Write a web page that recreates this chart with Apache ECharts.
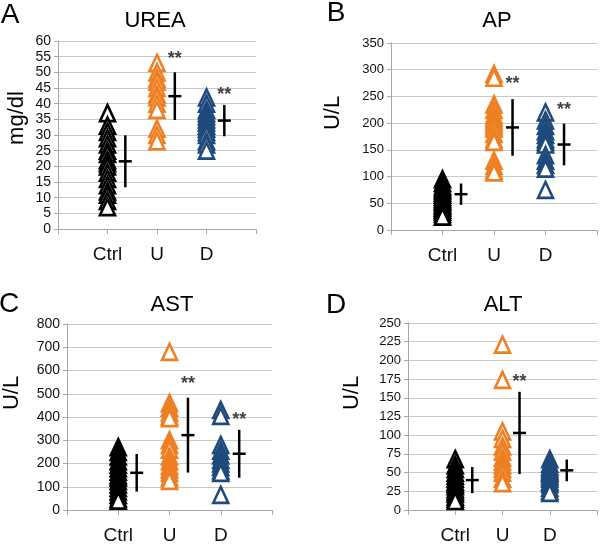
<!DOCTYPE html>
<html>
<head>
<meta charset="utf-8">
<script src="https://cdn.jsdelivr.net/npm/echarts@6/dist/echarts.min.js"></script>
<style>
  html, body { margin: 0; padding: 0; background: #fff; }
  #chart { width: 600px; height: 545px; }
</style>
</head>
<body>
<div id="chart"></div>
<script>
const groups = ["Ctrl", "U", "D"];
const groupColors = ["#000000", "#ee7f22", "#1f4a7c"];

// A - UREA (mg/dl)
const ureaCtrl = [37, 33, 31, 29, 27, 25, 24, 22, 21, 20, 18, 16, 14, 12, 11, 9, 7];
const ureaU = [53, 50, 48, 47, 45, 43, 42, 40, 38, 32, 30, 28];
const ureaD = [42, 40, 38, 37, 36, 35, 34, 33, 32, 31, 30, 28, 27, 25];
const ureaMean = [21.6, 42.4, 34.6];
const ureaSd = [8.3, 7.6, 5.0];
const ureaStars = [null, 56, 44.5];
const ureaAxis = [0, 60, 5];

// B - AP (U/L)
const apCtrl = [95, 88, 82, 78, 74, 70, 66, 62, 58, 55, 52, 48, 45, 42, 38, 35, 30, 25];
const apU = [292, 285, 235, 225, 215, 210, 205, 200, 195, 190, 180, 170, 165, 130, 120, 112, 108];
const apD = [220, 205, 195, 185, 178, 170, 165, 160, 140, 130, 122, 115, 75];
const apMean = [67, 192, 160];
const apSd = [20, 53, 39];
const apStars = [null, 283, 234];
const apAxis = [0, 350, 50];

// C - AST (U/L)
const astCtrl = [270, 250, 230, 210, 195, 180, 165, 150, 140, 125, 110, 95, 80, 65, 50, 40];
const astU = [680, 460, 440, 420, 405, 395, 300, 280, 260, 230, 210, 190, 175, 160, 140, 125];
const astD = [430, 405, 280, 255, 235, 215, 200, 185, 170, 160, 65];
const astMean = [160, 322, 242];
const astSd = [81, 161, 103];
const astStars = [null, 562, 410];
const astAxis = [0, 800, 100];

// D - ALT (U/L)
const altCtrl = [68, 60, 55, 50, 46, 42, 38, 35, 32, 28, 25, 22, 18, 15, 12];
const altU = [221, 174, 105, 95, 85, 78, 70, 65, 60, 55, 50, 42, 36];
const altD = [68, 62, 58, 55, 52, 50, 48, 45, 42, 38, 35, 30, 26, 23];
const altMean = [40, 103, 53];
const altSd = [17.5, 55, 14.5];
const altStars = [null, 178, null];
const altAxis = [0, 250, 25];

const panels = [
  { letter: "A", title: "UREA", unit: "mg/dl", values: [ureaCtrl, ureaU, ureaD], mean: ureaMean, sd: ureaSd, stars: ureaStars, axis: ureaAxis,
    grid: { left: 58, top: 41, width: 198, height: 188 }, letterPos: [10, 15], titlePos: [155, 21], unitPos: [17, 118], labelSize: 14 },
  { letter: "B", title: "AP", unit: "U/L", values: [apCtrl, apU, apD], mean: apMean, sd: apSd, stars: apStars, axis: apAxis,
    grid: { left: 391, top: 43, width: 206, height: 187 }, letterPos: [336, 13], titlePos: [497, 21], unitPos: [333, 113], labelSize: 13 },
  { letter: "C", title: "AST", unit: "U/L", values: [astCtrl, astU, astD], mean: astMean, sd: astSd, stars: astStars, axis: astAxis,
    grid: { left: 67, top: 324, width: 205, height: 188 }, letterPos: [9, 304], titlePos: [172, 305], unitPos: [12, 393], labelSize: 14 },
  { letter: "D", title: "ALT", unit: "U/L", values: [altCtrl, altU, altD], mean: altMean, sd: altSd, stars: altStars, axis: altAxis,
    grid: { left: 408, top: 323, width: 190, height: 189 }, letterPos: [336, 305], titlePos: [503, 305], unitPos: [352, 393], labelSize: 13 }
];

const BAR_OFFSET = 0.36;
const narrow = '"Liberation Sans Narrow", "Arial Narrow", "Liberation Sans", sans-serif';
const sans = '"Liberation Sans", Arial, sans-serif';

function renderErrorBar(params, api) {
  const x = api.value(0);
  const m = api.value(1);
  const s = api.value(2);
  const top = api.coord([x, m + s]);
  const bottom = api.coord([x, m - s]);
  const mid = api.coord([x, m]);
  const style = { stroke: "#000", lineWidth: 2.5 };
  return {
    type: "group",
    children: [
      { type: "line", shape: { x1: top[0], y1: top[1], x2: bottom[0], y2: bottom[1] }, style },
      { type: "line", shape: { x1: mid[0] - 6.5, y1: mid[1], x2: mid[0] + 6.5, y2: mid[1] }, style }
    ]
  };
}

const grid = [];
const xAxis = [];
const yAxis = [];
const series = [];
const graphic = [];

panels.forEach((p, i) => {
  grid.push(p.grid);
  xAxis.push({
    gridIndex: i,
    type: "value",
    min: 0,
    max: 4,
    interval: 1,
    axisLine: { lineStyle: { color: "#a6a6a6", width: 1 } },
    axisTick: { show: true, length: 5, lineStyle: { color: "#a6a6a6" } },
    splitLine: { show: false },
    axisLabel: {
      margin: 16,
      fontFamily: sans,
      fontSize: 19,
      color: "#111",
      formatter: (v) => groups[v - 1] ?? ""
    }
  });
  yAxis.push({
    gridIndex: i,
    type: "value",
    min: p.axis[0],
    max: p.axis[1],
    interval: p.axis[2],
    axisLine: { show: true, lineStyle: { color: "#a6a6a6", width: 1 } },
    axisTick: { show: true, length: 4, lineStyle: { color: "#a6a6a6" } },
    splitLine: { lineStyle: { color: "#c9c9c9", width: 1 } },
    axisLabel: { margin: 7, fontFamily: narrow, fontSize: p.labelSize, color: "#111" }
  });

  groups.forEach((g, gi) => {
    series.push({
      type: "scatter",
      name: p.title + " " + g,
      xAxisIndex: i,
      yAxisIndex: i,
      symbol: "triangle",
      symbolSize: [15, 16],
      itemStyle: { color: "#ffffff", borderColor: groupColors[gi], borderWidth: 2.6, opacity: 1 },
      emphasis: { disabled: true },
      data: p.values[gi].map((v) => [gi + 1, v])
    });
  });

  series.push({
    type: "custom",
    xAxisIndex: i,
    yAxisIndex: i,
    renderItem: renderErrorBar,
    z: 5,
    data: groups.map((g, gi) => [gi + 1 + BAR_OFFSET, p.mean[gi], p.sd[gi]])
  });

  series.push({
    type: "scatter",
    xAxisIndex: i,
    yAxisIndex: i,
    symbolSize: 1,
    itemStyle: { color: "transparent" },
    z: 6,
    label: {
      show: true,
      position: "inside",
      offset: [0, 5],
      formatter: "**",
      fontFamily: sans,
      fontWeight: "bold",
      fontSize: 18,
      color: "#111"
    },
    data: p.stars
      .map((v, gi) => (v == null ? null : [gi + 1 + BAR_OFFSET, v]))
      .filter((d) => d)
  });

  graphic.push(
    { type: "text", x: p.letterPos[0], y: p.letterPos[1],
      style: { text: p.letter, font: "28px " + sans, fill: "#000", align: "center", verticalAlign: "middle" } },
    { type: "text", x: p.titlePos[0], y: p.titlePos[1],
      style: { text: p.title, font: "22px " + sans, fill: "#000", align: "center", verticalAlign: "middle" } },
    { type: "text", x: p.unitPos[0], y: p.unitPos[1], rotation: Math.PI / 2,
      style: { text: p.unit, font: "22px " + sans, fill: "#000", align: "center", verticalAlign: "middle" } }
  );
});

const chart = echarts.init(document.getElementById("chart"));
chart.setOption({
  animation: false,
  backgroundColor: "#ffffff",
  grid,
  xAxis,
  yAxis,
  series,
  graphic
});
</script>
</body>
</html>
